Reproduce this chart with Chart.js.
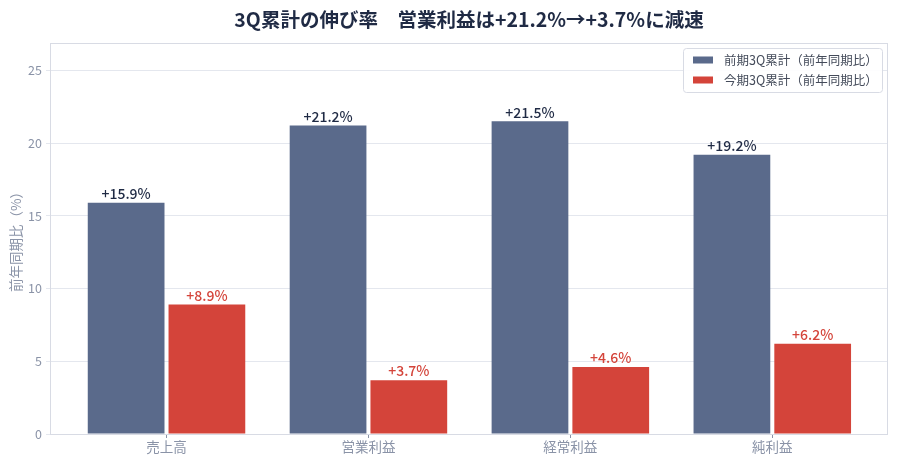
<!DOCTYPE html>
<html>
<head>
<meta charset="utf-8">
<script src="https://cdn.jsdelivr.net/npm/chart.js@4/dist/chart.umd.min.js"></script>
<style>
  html, body { margin: 0; padding: 0; background: #fff; }
  #wrap { width: 900px; height: 465px; }
</style>
</head>
<body>
<div id="wrap"><canvas id="myChart"></canvas></div>
<script>
const chartTitle = '3Q累計の伸び率　営業利益は+21.2%→+3.7%に減速';
const categories = ['売上高', '営業利益', '経常利益', '純利益'];
const prevGrowth = [15.9, 21.2, 21.5, 19.2];
const currGrowth = [8.9, 3.7, 4.6, 6.2];
const seriesNames = ['前期3Q累計（前年同期比）', '今期3Q累計（前年同期比）'];
const yTicks = [0, 5, 10, 15, 20, 25];

const FONT = "'Noto Sans CJK JP', 'Noto Sans', sans-serif";
const BLUE = '#5a6a8b';
const RED = '#d4443a';
const GRID = '#e4e7ee';
const TICK = '#8a93a7';

// value labels above the bars
const barLabels = {
    id: 'barLabels',
    afterDatasetsDraw(chart) {
        const ctx = chart.ctx;
        ctx.save();
        ctx.textAlign = 'center';
        ctx.textBaseline = 'bottom';
        ctx.font = '500 14px ' + FONT;
        chart.data.datasets.forEach((ds, i) => {
            ctx.fillStyle = i === 0 ? '#1f2a44' : RED;
            chart.getDatasetMeta(i).data.forEach((bar, j) => {
                ctx.fillText('+' + ds.data[j].y.toFixed(1) + '%', bar.x, bar.y - 2);
            });
        });
        ctx.restore();
    }
};

// frame, title centred over the plot, legend inside top right
const frameLegend = {
    id: 'frameLegend',
    afterDraw(chart) {
        const ctx = chart.ctx;
        const a = chart.chartArea;
        ctx.save();
        ctx.strokeStyle = '#d8dbe4';
        ctx.lineWidth = 1;
        ctx.strokeRect(a.left + 0.5, a.top + 0.5, a.right - a.left - 1, a.bottom - a.top);

        ctx.fillStyle = '#1f2a44';
        ctx.font = 'bold 19.5px ' + FONT;
        ctx.textAlign = 'center';
        ctx.textBaseline = 'middle';
        ctx.fillText(chartTitle, (a.left + a.right) / 2, 20);

        const w = 199, h = 44;
        const x = a.right - 6 - w, y = a.top + 5;
        ctx.fillStyle = 'rgba(255,255,255,0.9)';
        ctx.strokeStyle = '#d8dbe4';
        ctx.beginPath();
        ctx.roundRect(x + 0.5, y + 0.5, w, h, 3);
        ctx.fill();
        ctx.stroke();
        ctx.font = '12.5px ' + FONT;
        ctx.textAlign = 'left';
        chart.data.datasets.forEach((ds, i) => {
            const cy = y + 12 + i * 20;
            ctx.fillStyle = ds.backgroundColor;
            ctx.fillRect(x + 10, cy - 3.5, 20, 7);
            ctx.fillStyle = '#444b5a';
            ctx.fillText(ds.label, x + 41, cy);
        });
        ctx.restore();
    }
};

const data = {
    datasets: [{
        label: seriesNames[0],
        data: prevGrowth.map((v, i) => ({ x: i, y: v })),
        backgroundColor: BLUE,
        borderWidth: 0
    }, {
        label: seriesNames[1],
        data: currGrowth.map((v, i) => ({ x: i, y: v })),
        backgroundColor: RED,
        borderWidth: 0
    }]
};

const config = {
    type: 'bar',
    data,
    plugins: [barLabels, frameLegend],
    options: {
        responsive: true,
        maintainAspectRatio: false,
        animation: false,
        categoryPercentage: 0.8,
        barPercentage: 0.95,
        layout: { padding: { left: 8, right: 12, top: 43, bottom: 0 } },
        scales: {
            x: {
                type: 'linear',
                min: -0.577,
                max: 3.573,
                offset: false,
                afterBuildTicks: (s) => { s.ticks = categories.map((c, i) => ({ value: i })); },
                afterFit: (s) => { s.height = 31; },
                ticks: {
                    callback: (v) => categories[v],
                    color: TICK,
                    font: { family: FONT, size: 13.5 },
                    padding: 1,
                    maxRotation: 0
                },
                grid: { drawOnChartArea: false, offset: false, color: TICK, tickLength: 4 },
                border: { display: false }
            },
            y: {
                min: 0,
                max: 26.875,
                afterBuildTicks: (s) => { s.ticks = yTicks.map(v => ({ value: v })); },
                afterFit: (s) => { s.width = 42; },
                ticks: {
                    color: TICK,
                    font: { family: FONT, size: 12.5 },
                    padding: 4
                },
                grid: { color: GRID, tickLength: 4 },
                border: { display: false },
                title: {
                    display: true,
                    text: '前年同期比（%）',
                    color: TICK,
                    font: { family: FONT, size: 13.5 },
                    padding: 0
                }
            }
        },
        plugins: {
            legend: { display: false },
            tooltip: { enabled: false },
            title: { display: false }
        }
    }
};

const myChart = new Chart(
    document.getElementById('myChart').getContext('2d'),
    config
);
</script>
</body>
</html>
